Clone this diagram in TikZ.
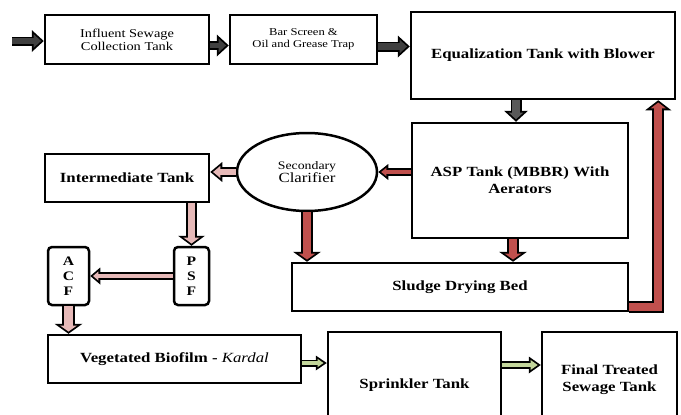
\documentclass[tikz,border=0pt]{standalone}
\usepackage{fontspec}
\setmainfont{Liberation Serif}[FakeStretch=1.2]
\usetikzlibrary{arrows.meta,shapes.geometric,calc}
\definecolor{dgray}{HTML}{404040}
\definecolor{mgray}{HTML}{595959}
\definecolor{sred}{HTML}{C0504D}
\definecolor{spink}{HTML}{E6B9B8}
\definecolor{sgreen}{HTML}{C3D69B}
% #1 colour, #2 shaft width, #3 head width, #4 head length, #5 path
\newcommand{\flow}[5]{%
  \pgfmathsetmacro\fo{1.8/sin(atan((#3/2)/#4))}%
  \pgfmathsetmacro\fl{#4-1.8-\fo}%
  \pgfmathsetmacro\fw{#3*\fl/#4}%
  \pgfmathsetmacro\fs{#2-3.6}%
  \draw[line width=#2pt,-{Triangle[length=#4pt,width=#3pt,line width=0pt]}] #5;%
  \draw[#1,line width=\fs pt,-{Triangle[length=\fl pt,width=\fw pt,line width=0pt]},shorten >=\fo pt] #5;%
}
\begin{document}
\begin{tikzpicture}[x=1pt,y=-1pt,
  box/.style={draw,line width=2.5pt,rectangle,inner sep=0pt,align=center,
    font=\fontsize{14}{17}\selectfont\bfseries},
  rbox/.style={box,rounded corners=4pt,font=\fontsize{13}{15}\selectfont\bfseries},
  oval/.style={draw,line width=2.5pt,ellipse,inner sep=0pt,align=center}]
\useasboundingbox (0,0) rectangle (681,415);
\clip (0,0) rectangle (681,415);
% nodes
\node[box,minimum width=164pt,minimum height=49pt,font=\fontsize{12}{13}\selectfont] (infl) at (127,39.5) {Influent Sewage\\Collection Tank};
\node[box,minimum width=147pt,minimum height=49pt,font=\fontsize{10.5}{12}\selectfont] (bar) at (303.5,39.5) {Bar Screen \&\\Oil and Grease Trap};
\node[box,minimum width=264pt,minimum height=87pt] (eq) at (543,55.5) {Equalization Tank with Blower};
\node[box,minimum width=216pt,minimum height=115pt] (asp) at (520,180.5) {ASP Tank (MBBR) With\\Aerators};
\node[oval,minimum width=140pt,minimum height=78pt] (clar) at (307,172) {{\fontsize{11.5}{14}\selectfont Secondary}\\{\fontsize{14}{15}\selectfont Clarifier}};
\node[box,minimum width=164pt,minimum height=48pt] (inter) at (127,178) {Intermediate Tank};
\node[rbox,minimum width=35pt,minimum height=58pt] (psf) at (191.5,276) {P\\S\\F};
\node[rbox,minimum width=41pt,minimum height=58pt] (acf) at (68.5,276) {A\\C\\F};
\node[box,minimum width=336pt,minimum height=48pt] (sludge) at (460,287) {Sludge Drying Bed};
\node[box,minimum width=253pt,minimum height=48pt] (veg) at (174.5,359) {Vegetated Biofilm - {\normalfont\itshape Kardal}};
\node[box,minimum width=173pt,minimum height=106pt] (spr) at (414.5,385) {Sprinkler Tank};
\node[box,minimum width=135pt,minimum height=96pt] (fin) at (609.5,380) {Final Treated\\Sewage Tank};
% helper coordinates
\coordinate (in) at (12,41);
\coordinate (t1) at ($(infl.east)+(0,6)$);
\coordinate (t2) at ($(bar.east)+(0,7)$);
\coordinate (a1) at ($(asp.south)+(-7,0)$);
\coordinate (e1) at ($(asp.north)+(-4,0)$);
\coordinate (g1) at ($(veg.east)+(0,4)$);
\coordinate (g2) at ($(spr.east)+(0,-20)$);
\coordinate (r0) at ($(sludge.south east)+(0,-5.5)$);
\coordinate (r1) at ($(eq.south east)+(-18,0)$);
% connectors
\flow{dgray}{9}{22}{12}{(in) -- (in -| infl.west)}
\flow{dgray}{9}{22}{12}{(t1) -- (t1 -| bar.west)}
\flow{dgray}{10}{22}{12}{(t2) -- (t2 -| eq.west)}
\flow{mgray}{11}{24}{11}{(e1 |- eq.south) -- (e1)}
\flow{sred}{12}{28}{10}{(a1) -- (a1 |- sludge.north)}
\flow{sred}{8}{16}{10}{(asp.west |- clar.east) -- (clar.east)}
\flow{spink}{10}{20}{12}{(clar.west) -- (clar.west -| inter.east)}
\flow{sred}{12}{28}{10}{(clar.south) -- (clar.south |- sludge.north)}
\flow{spink}{11}{27}{10}{(psf.north |- inter.south) -- (psf.north)}
\flow{spink}{8}{17}{10}{(psf.west) -- (psf.west -| acf.east)}
\flow{spink}{13}{28}{10}{(acf.south) -- (acf.south |- veg.north)}
\flow{sgreen}{7}{15}{11}{(g1) -- (g1 -| spr.west)}
\flow{sgreen}{8}{17}{12}{(g2) -- (g2 -| fin.west)}
\flow{sred}{12}{26}{10}{(r0) -| (r1)}
\end{tikzpicture}
\end{document}
